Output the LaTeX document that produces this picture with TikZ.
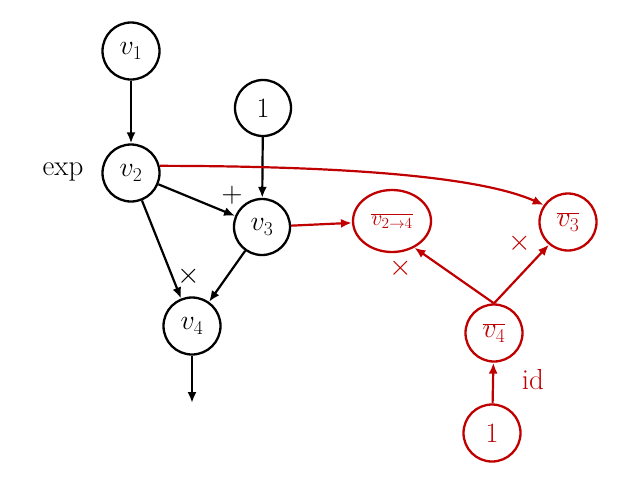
\RequirePackage{fix-cm}
\documentclass[tikz,border=0pt]{standalone}
\usetikzlibrary{arrows.meta,shapes.geometric}
\definecolor{dred}{RGB}{192,0,0}
\begin{document}
\begin{tikzpicture}[x=1pt,y=-1pt,
  nd/.style={draw,circle,line width=2.3pt,minimum size=57pt,inner sep=0pt,font=\fontsize{28}{32}\selectfont},
  rnd/.style={nd,draw=dred,text=dred},
  ar/.style={line width=2.2pt,-{Latex[length=11pt,width=9pt]}},
  rar/.style={ar,draw=dred},
  lab/.style={font=\fontsize{29}{34}\selectfont},
  rlab/.style={lab,text=dred}]
\useasboundingbox (0,0) rectangle (639,477);
\node[nd] (v1) at (131,51) {$v_1$};
\node[nd] (v2) at (131,173) {$v_2$};
\node[nd,minimum size=56pt] (c1) at (263,108) {$1$};
\node[nd,minimum size=56pt] (v3) at (262,227) {$v_3$};
\node[nd] (v4) at (192,326) {$v_4$};
\coordinate (out) at (192,403);
\node[rnd,ellipse,minimum width=78pt,minimum height=62pt,font=\fontsize{22}{26}\selectfont] (b24) at (392,221) {$\overline{v_{2\to4}}$};
\node[rnd] (b3) at (568,222) {$\overline{v_3}$};
\node[rnd] (b4) at (494,333) {$\overline{v_4}$};
\node[rnd] (r1) at (492,433) {$1$};
\node[lab] (lexp) at (63,172) {exp};
\node[lab] (lplus) at (232,195) {$+$};
\node[lab] (ltimes) at (189,276) {$\times$};
\node[rlab] (lt2) at (401,268) {$\times$};
\node[rlab] (lt3) at (520,243) {$\times$};
\node[rlab] (lid) at (533,380) {id};
\draw[ar] (v1) -- (v2);
\draw[ar] (c1) -- (v3);
\draw[ar] (v2) -- (v3);
\draw[ar] (v2) -- (v4);
\draw[ar] (v3) -- (v4);
\draw[ar] (v4) -- (out);
\draw[rar] (v3) -- (b24);
\draw[rar] (v2.14) .. controls (300,166) and (470,172) .. (b3.145);
\draw[rar] (b4.north) -- (b24.-50);
\draw[rar] (b4.north) -- (b3.-130);
\draw[rar] (r1) -- (b4);
\end{tikzpicture}
\end{document}
